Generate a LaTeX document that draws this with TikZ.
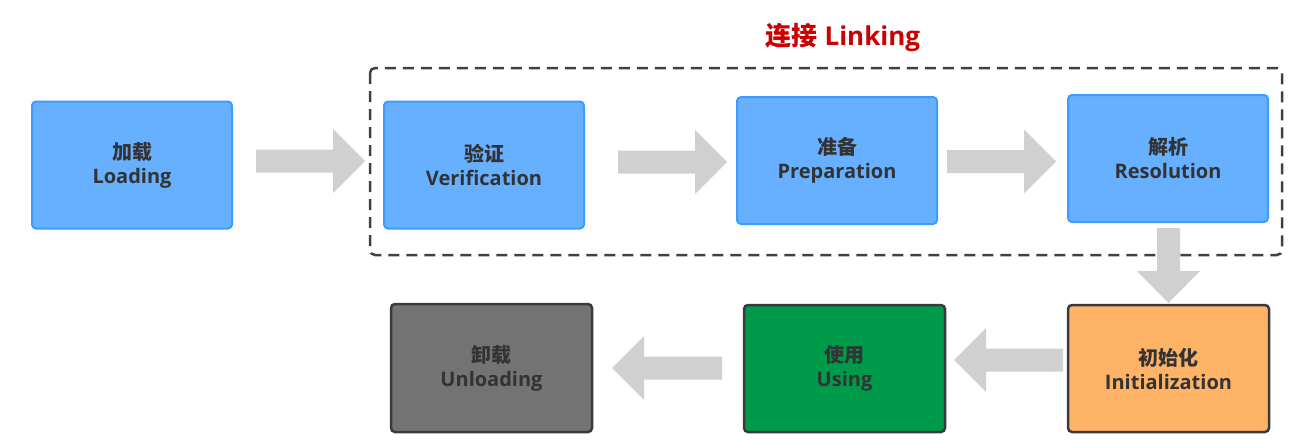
\documentclass[tikz,border=0pt]{standalone}
\usepackage{fontspec}
\setmainfont{Open Sans}
\newfontfamily\cjk{Noto Sans CJK SC}
\usetikzlibrary{calc}
\definecolor{bluefill}{HTML}{66B0FF}
\definecolor{blueline}{HTML}{3E9CFF}
\definecolor{darkline}{HTML}{3A3A3A}
\definecolor{orangefill}{HTML}{FFB366}
\definecolor{greenfill}{HTML}{009A4B}
\definecolor{grayfill}{HTML}{737373}
\definecolor{arrowgray}{HTML}{D0D0D0}
\definecolor{txt}{HTML}{333333}
\definecolor{titlered}{HTML}{CC0000}
\definecolor{dashgray}{HTML}{404040}
\newcommand\rblock[3]{% tail x, tip x, y
  \pgfmathsetmacro\hbx{#2-32*sign(#2-#1)}
  \fill[arrowc] (#1,#3-11.5) -- (\hbx,#3-11.5) -- (\hbx,#3-32) -- (#2,#3) -- (\hbx,#3+32) -- (\hbx,#3+11.5) -- (#1,#3+11.5) -- cycle;}
\newcommand\dblock[3]{% x, tail y, tip y
  \pgfmathsetmacro\hby{#3-32}
  \fill[arrowc] (#1-11.5,#2) -- (#1-11.5,\hby) -- (#1-31.5,\hby) -- (#1,#3) -- (#1+31.5,\hby) -- (#1+11.5,\hby) -- (#1+11.5,#2) -- cycle;}
\begin{document}
\begin{tikzpicture}[x=1pt,y=-1pt,
  box/.style={rounded corners=4pt, minimum width=200pt, minimum height=127pt, inner sep=0pt,
    align=center, text=txt, font=\fontsize{20}{24}\selectfont\bfseries},
  bluebox/.style={box, fill=bluefill, draw=blueline, line width=2pt},
  darkbox/.style={box, draw=darkline, line width=2.5pt},
  arrowc/.style={fill=arrowgray},
  linkbox/.style={draw=dashgray, line width=2.5pt, dash pattern=on 11pt off 7pt, rounded corners=5pt}]
\useasboundingbox (0,0) rectangle (1292,447);
% dashed linking group
\draw[linkbox] (370,68) rectangle (1282,255);
\node[text=titlered, font=\fontsize{26}{30}\selectfont\bfseries] (title) at (843,37) {{\cjk 连接} Linking};
% boxes
\node[bluebox] (load) at (132,165) {{\cjk 加载}\\Loading};
\node[bluebox] (verif) at (484,165) {{\cjk 验证}\\Verification};
\node[bluebox] (prep) at (837,160.5) {{\cjk 准备}\\Preparation};
\node[bluebox] (resol) at (1168,158.5) {{\cjk 解析}\\Resolution};
\node[darkbox, fill=orangefill, minimum width=201pt] (init) at (1168.5,368.5) {{\cjk 初始化}\\Initialization};
\node[darkbox, fill=greenfill, minimum width=201pt] (using) at (844.5,368.5) {{\cjk 使用}\\Using};
\node[darkbox, fill=grayfill, minimum width=201pt, minimum height=128pt] (unload) at (491.5,368) {{\cjk 卸载}\\Unloading};
% block arrows between the stages
\rblock{256}{365}{161}
\rblock{618}{727}{162}
\rblock{947}{1056}{161.5}
\dblock{1168.5}{228}{303}
\rblock{1063}{954}{360}
\rblock{722}{612}{368}
\end{tikzpicture}
\end{document}
